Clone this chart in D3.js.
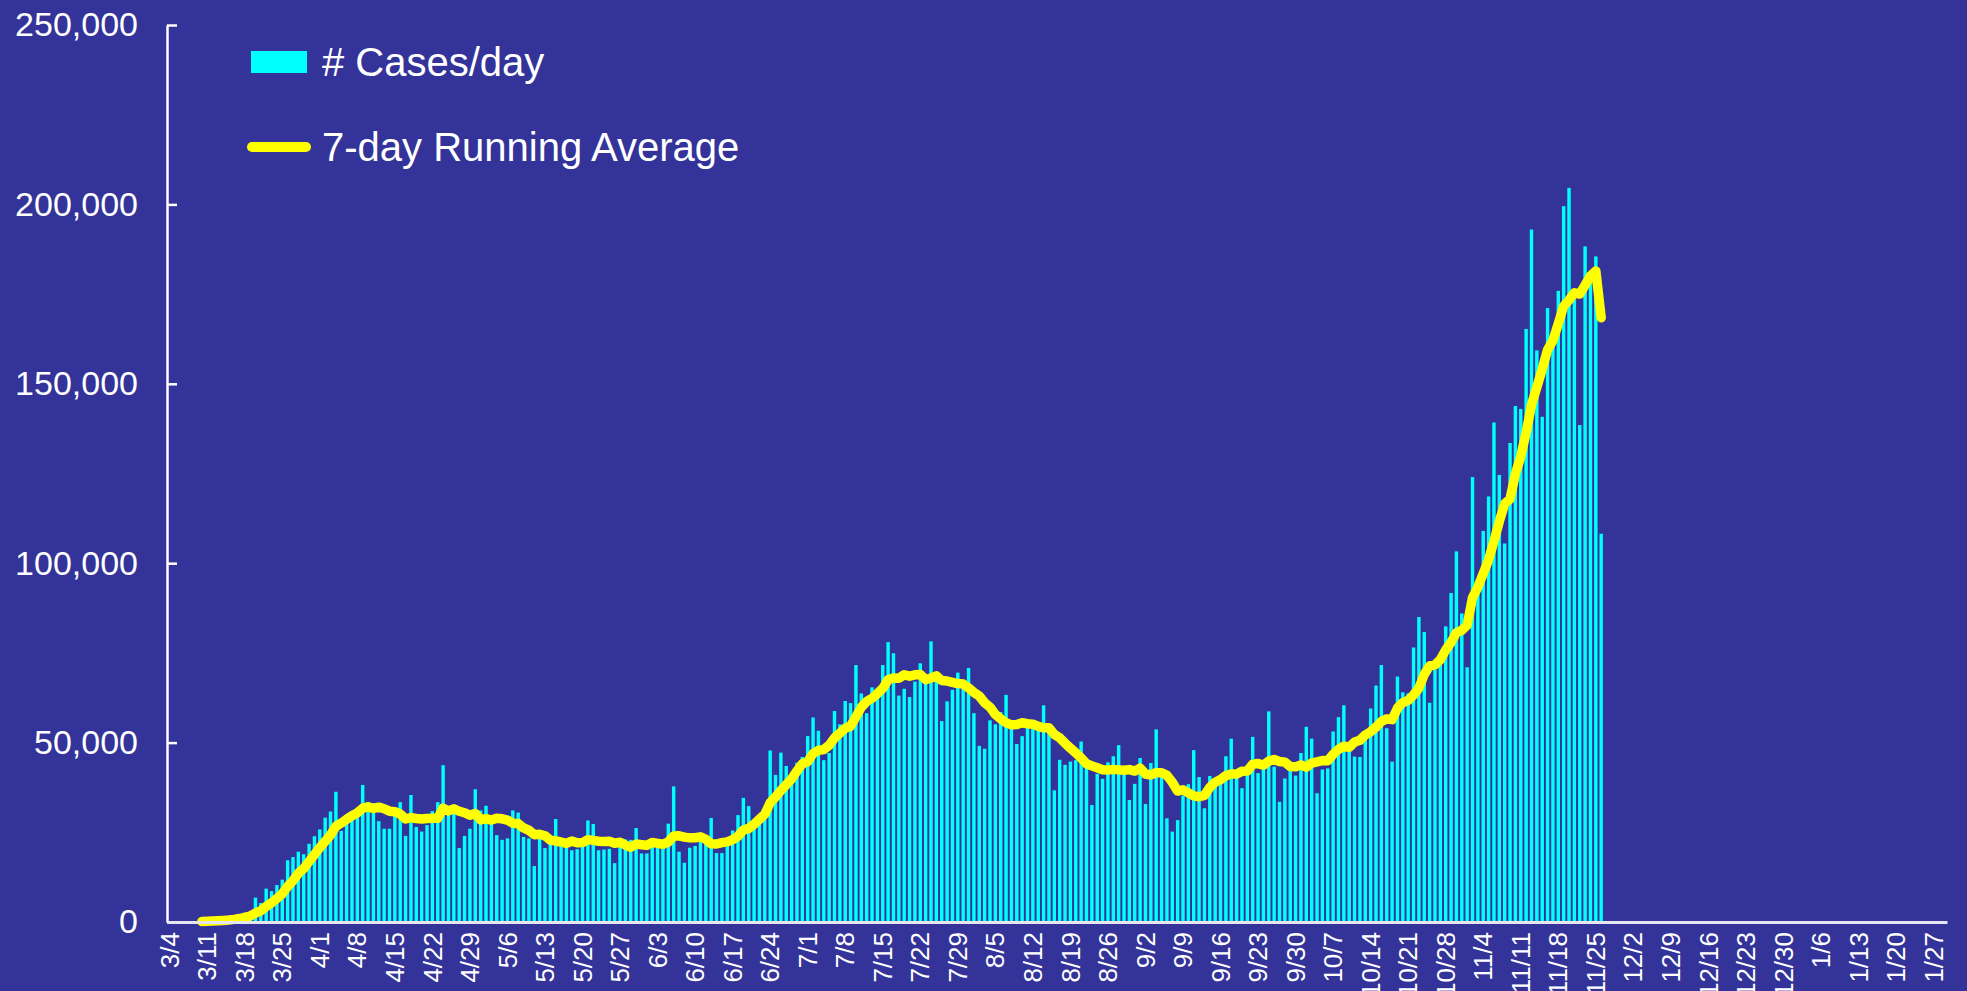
<!DOCTYPE html>
<html>
<head>
<meta charset="utf-8">
<script src="https://cdn.jsdelivr.net/npm/d3@7"></script>
<style>
body { margin: 0; background: #333399; }
svg { display: block; }
text { font-family: "Liberation Sans", Arial, sans-serif; fill: #ffffff; }
</style>
</head>
<body>
<div id="chart"></div>
<script>
// daily cases from 3/4 on, x axis runs 332 days (to end of January)
var startDay = new Date(2020, 2, 4);
var dayCount = 332;

var casesPerDay = [
  30, 60, 90, 120, 150, 200, 300,
  400, 500, 700, 800, 1000, 1400, 1900,
  2600, 2900, 6800, 5300, 9300, 8600, 10300,
  11800, 17200, 18100, 19600, 18900, 21800, 23900,
  25800, 29100, 30800, 36300, 25400, 29100, 30800,
  31400, 38200, 33400, 33100, 28100, 26000, 26000,
  30500, 33400, 24000, 35400, 26500, 25200, 27000,
  30900, 33400, 43700, 30000, 30500, 20600, 24000,
  26000, 37000, 31100, 32400, 27700, 24200, 22900,
  23300, 31100, 30500, 23700, 23300, 15600, 23500,
  20600, 22600, 28700, 21800, 20600, 20000, 20300,
  21000, 28300, 27300, 20000, 20200, 20400, 16400,
  22900, 23000, 22900, 26200, 19100, 19100, 22100,
  21100, 21100, 27400, 37800, 19600, 16500, 20700,
  21200, 23000, 22600, 29000, 19200, 19200, 22100,
  25500, 29800, 34600, 32300, 27200, 29100, 31900,
  47800, 41000, 47200, 43500, 38800, 44400, 46000,
  51800, 57000, 53300, 45100, 47100, 58800, 55100,
  61600, 61000, 71600, 63700, 58200, 65400, 64200,
  71600, 78000, 74900, 63100, 65000, 62700, 67000,
  72100, 68000, 78200, 67200, 56000, 61500, 64700,
  69500, 67200, 70800, 58200, 49100, 48300, 56200,
  55100, 58500, 63300, 54200, 49600, 51800, 54300,
  54300, 54200, 60400, 54200, 36700, 45200, 43800,
  44700, 45100, 50300, 43000, 32600, 41300, 39900,
  44500, 46200, 49300, 42100, 34000, 38500, 45700,
  32900, 44300, 53700, 42100, 28900, 25200, 28400,
  35200, 38400, 47900, 40400, 31700, 40700, 38400,
  40200, 46200, 51100, 40200, 37300, 41200, 51600,
  41500, 43300, 58700, 43300, 33500, 40000, 43100,
  40800, 47100, 54400, 51100, 35900, 42500, 42800,
  53100, 57100, 60400, 49100, 46100, 46000, 53100,
  59500, 65900, 71600, 54000, 44700, 68400, 64000,
  63700, 76500, 85000, 80800, 61100, 70400, 74400,
  82400, 91700, 103300, 86000, 71000, 124000, 95000,
  109000, 118600, 139200, 124600, 105500, 133500, 143800,
  143000, 165300, 193000, 159300, 140800, 171100, 162000,
  175900, 199500, 204600, 173500, 138500, 188300, 180200,
  185500, 108200
];

var tickLabels = ["3/4","3/11","3/18","3/25","4/1","4/8","4/15","4/22","4/29",
  "5/6","5/13","5/20","5/27","6/3","6/10","6/17","6/24","7/1","7/8","7/15",
  "7/22","7/29","8/5","8/12","8/19","8/26","9/2","9/9","9/16","9/23","9/30",
  "10/7","10/14","10/21","10/28","11/4","11/11","11/18","11/25","12/2","12/9",
  "12/16","12/23","12/30","1/6","1/13","1/20","1/27"];

var yTicks = [0, 50000, 100000, 150000, 200000, 250000];

var legendLabels = ["# Cases/day", "7-day Running Average"];

drawChart();

function drawChart()
{
	var width = 1967,
	    height = 991,
	    left = 167,
	    right = 1947,
	    top = 25,
	    bottom = 922;

	var days = d3.range(dayCount);

	var x = d3.scaleBand()
		.domain(days)
		.range([left, right])
		.paddingInner(0.36)
		.paddingOuter(0.18);

	var y = d3.scaleLinear()
		.domain([0, 250000])
		.range([bottom, top]);

	var svg = d3.select('#chart').append('svg')
		.attr('width', width)
		.attr('height', height)
		.style('background', '#333399');

	// bars
	svg.append('g').selectAll('rect').data(casesPerDay)
		.enter().append('rect')
		.attr('fill', '#00ffff')
		.attr('x', function (d, i) { return x(i); })
		.attr('width', x.bandwidth())
		.attr('y', function (d) { return y(d); })
		.attr('height', function (d) { return bottom - y(d); });

	// 7-day running average of the bars
	var avg = [];
	for (var i = 6; i < casesPerDay.length; i++) {
		avg.push({ day: i, value: d3.mean(casesPerDay.slice(i - 6, i + 1)) });
	}

	var line = d3.line()
		.x(function (d) { return x(d.day) + x.bandwidth() / 2; })
		.y(function (d) { return y(d.value); });

	svg.append('path')
		.datum(avg)
		.attr('d', line)
		.attr('fill', 'none')
		.attr('stroke', '#ffff00')
		.attr('stroke-width', 9.5)
		.attr('stroke-linejoin', 'round')
		.attr('stroke-linecap', 'round');

	// y axis
	var yAxis = svg.append('g')
		.attr('transform', 'translate(' + left + ',0)')
		.call(d3.axisLeft(y)
			.tickValues(yTicks)
			.tickFormat(d3.format(','))
			.tickSizeInner(-10)
			.tickSizeOuter(0)
			.tickPadding(29));
	yAxis.selectAll('path, line').attr('stroke', '#ffffff').attr('stroke-width', 2.5);
	yAxis.selectAll('text')
		.style('font-size', '34px')
		.attr('fill', '#ffffff');

	// x axis, a label every 7th day
	var tickDays = tickLabels.map(function (t, i) { return i * 7; });
	var xAxis = svg.append('g')
		.attr('transform', 'translate(0,' + bottom + ')')
		.call(d3.axisBottom(x)
			.tickValues(tickDays)
			.tickFormat(function (d) { return tickLabels[d / 7]; })
			.tickSize(0)
			.tickPadding(0));
	xAxis.select('.domain').attr('stroke', '#e6e6f0').attr('stroke-width', 3);
	xAxis.selectAll('text')
		.style('font-size', '26px')
		.attr('fill', '#ffffff')
		.attr('text-anchor', 'end')
		.attr('transform', 'rotate(-90)')
		.attr('x', -10)
		.attr('y', 0)
		.attr('dy', '0.35em');

	// legend
	var legend = svg.append('g');
	legend.append('rect')
		.attr('x', 251).attr('y', 51)
		.attr('width', 56).attr('height', 22)
		.attr('fill', '#00ffff');
	legend.append('line')
		.attr('x1', 252).attr('x2', 306)
		.attr('y1', 147).attr('y2', 147)
		.attr('stroke', '#ffff00')
		.attr('stroke-width', 10)
		.attr('stroke-linecap', 'round');
	legend.selectAll('text').data(legendLabels)
		.enter().append('text')
		.attr('x', 322)
		.attr('y', function (d, i) { return i == 0 ? 62 : 147; })
		.attr('dy', '0.35em')
		.style('font-size', '40px')
		.text(function (d) { return d; });
}
</script>
</body>
</html>
